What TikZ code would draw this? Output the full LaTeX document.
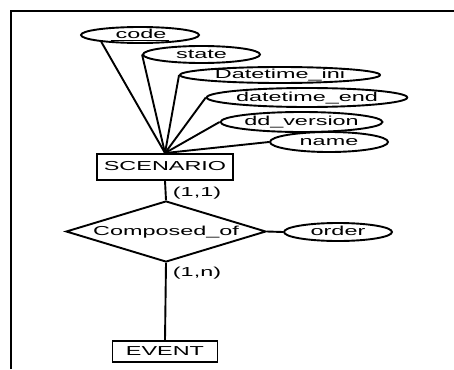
\documentclass[tikz,border=0pt]{standalone}
\usepackage{fontspec}
\setmainfont{Liberation Sans}[FakeStretch=1.8]
\usetikzlibrary{shapes.geometric}
\begin{document}
\begin{tikzpicture}[x=1pt,y=-1pt,line width=1.9pt,
  every node/.style={font=\fontsize{13}{15}\selectfont,inner sep=0pt,
    text height=9pt,text depth=2pt},
  attr/.style={draw,ellipse},
  entity/.style={draw,rectangle},
  relation/.style={draw,diamond,shape aspect=3.28},
  card/.style={anchor=west}]
\useasboundingbox (0,0) rectangle (454,369);

% open frame (top and left edges)
\draw[line width=2pt] (11,369) -- (11,11) -- (454,11);

% entities
\node[entity,minimum width=136pt,minimum height=26pt] (scen) at (165,167) {SCENARIO};
\node[entity,minimum width=105pt,minimum height=21pt] (event) at (165,351.5) {EVENT};

% attributes of SCENARIO
\node[attr,minimum width=118pt,minimum height=16pt] (code) at (140,35)
  {\underline{\hspace{5pt}code\hspace{3pt}}};
\node[attr,minimum width=117pt,minimum height=17pt] (state) at (201.5,54.5) {state};
\node[attr,minimum width=200pt,minimum height=16pt] (dtini) at (280,75) {Datetime\_ini};
\node[attr,minimum width=200pt,minimum height=19pt] (dtend) at (307,97.5) {datetime\_end};
\node[attr,minimum width=161pt,minimum height=20pt] (ddver) at (301.5,122) {dd\_version};
\node[attr,minimum width=118pt,minimum height=20pt] (name) at (329,142) {name};

% relationship and its attribute
\node[relation,minimum width=200pt,minimum height=61pt] (rel) at (166,231.5) {Composed\_of};
\node[attr,minimum width=108pt,minimum height=18pt] (order) at (338,232) {order};

% cardinalities
\node[card] (card1) at (172,193) {(1,1)};
\node[card] (cardn) at (172,273) {(1,n)};

% connectors
\draw (scen.north) -- (code.190);
\draw (scen.north) -- (state.west);
\draw (scen.north) -- (dtini.west);
\draw (scen.north) -- (dtend.west);
\draw (scen.north) -- (ddver.west);
\draw (scen.north) -- (name.west);
\draw (scen.south) -- (rel.north);
\draw (rel.south) -- (event.north);
\draw (rel.east) -- (order.west);
\end{tikzpicture}
\end{document}
